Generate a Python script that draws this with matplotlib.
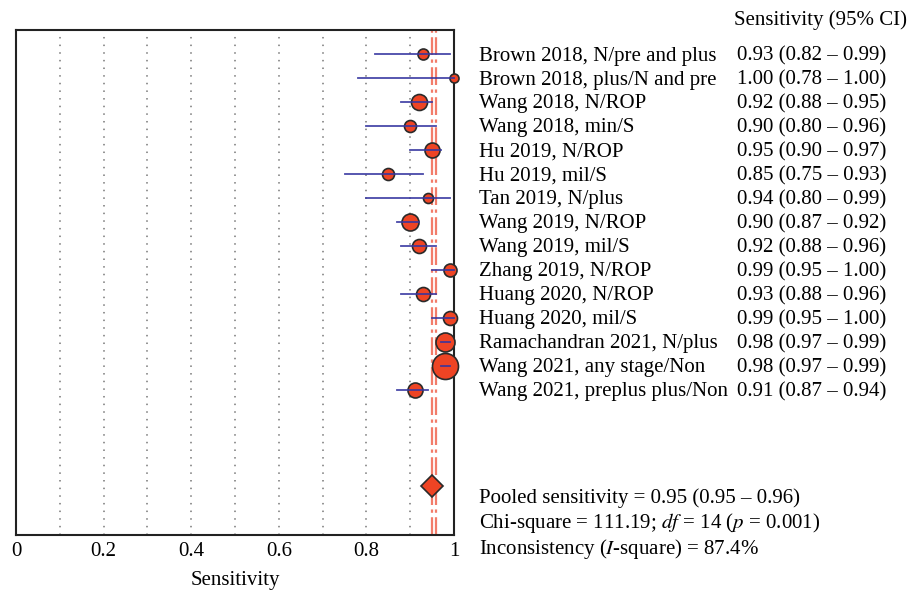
import matplotlib
matplotlib.use("Agg")
import matplotlib.pyplot as plt
import matplotlib.transforms as mtransforms

# study data
studies = ["Brown 2018, N/pre and plus", "Brown 2018, plus/N and pre", "Wang 2018, N/ROP",
           "Wang 2018, min/S", "Hu 2019, N/ROP", "Hu 2019, mil/S", "Tan 2019, N/plus",
           "Wang 2019, N/ROP", "Wang 2019, mil/S", "Zhang 2019, N/ROP", "Huang 2020, N/ROP",
           "Huang 2020, mil/S", "Ramachandran 2021, N/plus", "Wang 2021, any stage/Non",
           "Wang 2021, preplus plus/Non"]
sens = [0.93, 1.00, 0.92, 0.90, 0.95, 0.85, 0.94, 0.90, 0.92, 0.99, 0.93, 0.99, 0.98, 0.98, 0.91]
lower = [0.82, 0.78, 0.88, 0.80, 0.90, 0.75, 0.80, 0.87, 0.88, 0.95, 0.88, 0.95, 0.97, 0.97, 0.87]
upper = [0.99, 1.00, 0.95, 0.96, 0.97, 0.93, 0.99, 0.92, 0.96, 1.00, 0.96, 1.00, 0.99, 0.99, 0.94]
# relative study weights (shown as marker size)
weights = [11, 9, 16, 12, 15, 12, 10, 17, 14, 13, 14, 14, 19, 26, 15]

pooled = 0.95
pooled_lo = 0.95
pooled_hi = 0.96
chi2 = 111.19
dof = 14
pval = 0.001
i2 = 87.4

plt.rcParams['font.family'] = ['Liberation Serif', 'DejaVu Serif']
plt.rcParams['mathtext.fontset'] = 'stix'

fs = 15

fig = plt.figure(figsize=(9.1, 5.9), dpi=100)
ax = fig.add_axes([0.0176, 0.0932, 0.4813, 0.8559])

ax.set_xlim(0, 1)
ax.set_ylim(20.05, -1)

for g in [0.1, 0.2, 0.3, 0.4, 0.5, 0.6, 0.7, 0.8, 0.9]:
    ax.axvline(g, color='#777777', linestyle=(0, (1, 4)), linewidth=1.1, zorder=1)

for v in [pooled_lo, pooled_hi]:
    ax.axvline(v, color='#f27c6a', linestyle=(0, (8, 2, 1.5, 2)), linewidth=1.6, zorder=2)

rows = list(range(len(studies)))
for i in rows:
    ax.plot(sens[i], i, 'o', markersize=weights[i] * 0.72, markerfacecolor='#ee4424',
            markeredgecolor='#2a2a2a', markeredgewidth=1.2, zorder=6, clip_on=False)
    ax.plot([lower[i], upper[i]], [i, i], color='#3535a0', linewidth=1.3, alpha=0.9,
            zorder=7, clip_on=False)

ax.plot(pooled, 18, 'D', markersize=11, markerfacecolor='#ee4424',
        markeredgecolor='#2a2a2a', markeredgewidth=1.2, zorder=5)

for s in ax.spines.values():
    s.set_linewidth(1.5)
    s.set_color('#222222')

ax.set_yticks([])
ax.set_xticks([0, 0.2, 0.4, 0.6, 0.8, 1])
ax.set_xticklabels(['0', '0.2', '0.4', '0.6', '0.8', '1'], fontsize=fs)
ax.tick_params(axis='x', length=0, pad=5)
ax.set_xlabel('Sensitivity', fontsize=fs, labelpad=7)

# right-hand text columns, nudged down a little to sit on the rows
trans = mtransforms.blended_transform_factory(fig.transFigure, ax.transData)
off = mtransforms.ScaledTranslation(0, -2 / 100, fig.dpi_scale_trans)
ttrans = trans + off
for i in rows:
    ax.text(0.526, i, studies[i], transform=ttrans, fontsize=fs, va='center', ha='left')
    ax.text(0.810, i, '%.2f (%.2f – %.2f)' % (sens[i], lower[i], upper[i]),
            transform=ttrans, fontsize=fs, va='center', ha='left')

fig.text(0.997, 0.966, 'Sensitivity (95% CI)', fontsize=fs, ha='right', va='center')

ax.text(0.526, 18.45, 'Pooled sensitivity = %.2f (%.2f – %.2f)' % (pooled, pooled_lo, pooled_hi),
        transform=ttrans, fontsize=fs, va='center', ha='left')
ax.text(0.526, 19.45, 'Chi-square = %.2f; $df$ = %d ($p$ = %.3f)' % (chi2, dof, pval),
        transform=ttrans, fontsize=fs, va='center', ha='left')
ax.text(0.526, 20.55, 'Inconsistency ($I$-square) = %.1f%%' % i2,
        transform=ttrans, fontsize=fs, va='center', ha='left')

fig.savefig('out.png', dpi=100)
